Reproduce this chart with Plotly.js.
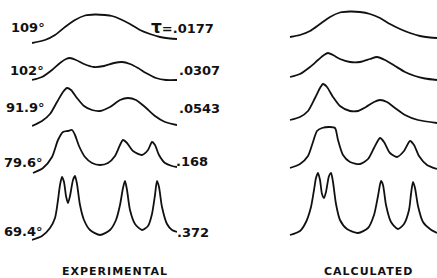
<!DOCTYPE html>
<html>
<head>
<meta charset="utf-8">
<script src="https://cdn.plot.ly/plotly-3.0.1.min.js"></script>
<style>html,body{margin:0;padding:0;background:#fff;}#chart{width:437px;height:278px;}</style>
</head>
<body>
<div id="chart"></div>
<script>
// Temperatures and correlation times
const tempLabels = ["109°", "102°", "91.9°", "79.6°", "69.4°"];
const tauLabels = [".0177", ".0307", ".0543", ".168", ".372"];
const columnTitles = ["EXPERIMENTAL", "CALCULATED"];

// Experimental spectra (frequency, arbitrary units; intensity, arbitrary units)
const expFreq1 = [0,13,23,33,43,53,63,73,80,88,98,108,118,128,138,145];
const expInt1  = [0,3,8,16,23,27.5,28.5,28,27,24,19,13,9,6,4.5,4];
const expFreq2 = [0,10,20,28,34,38,44,52,62,72,82,90,98,106,114,124,134,145];
const expInt2  = [1,4,11,18,22,23,21,17,14,15,18,19,17,13,8,3,1,1];
const expFreq3 = [0,10,18,25,31,35,39,45,52,60,68,78,88,96,104,113,123,133,145];
const expInt3  = [0,5,12,24,34,38,36,28,20,16,15,19,26,28,26,19,10,4,1];
const expFreq4 = [1,11,20,26,31,36,40,43,47,53,60,68,76,83,88,91,95,101,110,116,120,123,127,133,140,145];
const expInt4  = [0,5,16,33,41,42,43,38,27,16,10,8,10,17,28,33,30,22,18,23,31,28,18,10,7,6];
const expFreq5 = [0,10,18,23,26,28,30,32,34,36,38,41,43,45,48,52,58,68,78,84,88,91,93,95,98,103,110,116,120,123,125,127,130,135,140,145];
const expInt5  = [0,4,12,22,40,55,63,58,44,37,44,60,64,56,35,20,10,5,10,20,35,52,59,50,30,16,10,14,26,45,59,53,33,16,10,8];

// Calculated spectra
const calcFreq1 = [2,12,22,32,42,52,62,72,82,92,102,112,122,132,142,149];
const calcInt1  = [2,4,8,15,22,26.5,27.5,27,25,21,15,10,6,3,1.5,1];
const calcFreq2 = [2,12,22,30,36,40,45,52,62,72,82,89,97,107,117,127,137,149];
const calcInt2  = [3,6,13,20,25,27,25,21,18,18,21,23,20,14,8,4,1.5,0];
const calcFreq3 = [2,12,20,27,32,35,39,45,52,62,70,78,86,92,99,107,117,130,149];
const calcInt3  = [3,6,12,25,35,39,36,26,17,12,12,16,21,23,21,15,8,3,0];
const calcFreq4 = [2,12,20,25,29,34,42,47,50,55,62,72,80,86,92,96,102,109,116,122,126,131,139,149];
const calcInt4  = [1,5,13,27,38,41,42,41,29,14,7,5,10,21,31,27,16,12,18,28,24,13,4,0];
const calcFreq5 = [2,12,18,23,26,28,30,32,34,36,38,41,43,45,48,52,59,70,80,86,90,93,95,98,103,110,116,121,123,125,127,130,135,142,149];
const calcInt5  = [1,5,14,29,46,58,63,56,42,38,44,60,63,54,32,16,7,3,8,21,40,55,51,31,14,7,12,26,42,54,48,30,14,7,3];

const expSpectra = [[expFreq1,expInt1],[expFreq2,expInt2],[expFreq3,expInt3],[expFreq4,expInt4],[expFreq5,expInt5]];
const calcSpectra = [[calcFreq1,calcInt1],[calcFreq2,calcInt2],[calcFreq3,calcInt3],[calcFreq4,calcInt4],[calcFreq5,calcInt5]];

// ---- layout (pixel geometry) ----
const W = 437, H = 278;
const leftBase = [43, 81, 126, 173, 240];
const rightBase = [39, 80, 123, 169, 236];
const pad = 3;
const ink = '#111111';
const FONT = 'DejaVu Sans, sans-serif';

const traces = [];
const layout = {
  width: W, height: H,
  margin: {l:0, r:0, t:0, b:0},
  paper_bgcolor: '#fff', plot_bgcolor: 'rgba(0,0,0,0)',
  showlegend: false,
  annotations: []
};

function addPanel(idx, spec, x0, xSpan, base) {
  const n = idx + 1;
  const hgt = Math.min(70, base - 3);
  const xa = 'xaxis' + (n === 1 ? '' : n), ya = 'yaxis' + (n === 1 ? '' : n);
  layout[xa] = {domain: [x0 / W, Math.min(1, (x0 + xSpan) / W)], range: [0, xSpan], visible: false, fixedrange: true};
  layout[ya] = {domain: [1 - (base + pad) / H, 1 - (base - hgt) / H], range: [-pad, hgt], visible: false, fixedrange: true};
  traces.push({
    x: spec[0], y: spec[1], type: 'scatter', mode: 'lines',
    xaxis: 'x' + (n === 1 ? '' : n), yaxis: 'y' + (n === 1 ? '' : n),
    line: {color: ink, width: 1.8, shape: 'spline', smoothing: 0.7},
    hoverinfo: 'skip'
  });
}

for (let i = 0; i < 5; i++) {
  addPanel(i, expSpectra[i], 32, 145, leftBase[i]);
  addPanel(i + 5, calcSpectra[i], 288, 149, rightBase[i]);
}

const tempY = [27, 70, 107, 162, 231];
const tempXr = [47, 46, 47, 45, 45];
const tauX = [149, 177, 177, 174, 175];
const tauY = [27, 70, 108, 161, 232];

function ann(text, px, py, xanchor, size) {
  layout.annotations.push({
    text: text, xref: 'paper', yref: 'paper', x: px / W, y: 1 - py / H,
    xanchor: xanchor, yanchor: 'middle', showarrow: false,
    font: {family: FONT, size: size, color: ink, weight: 'bold'}
  });
}

for (let i = 0; i < 5; i++) {
  ann(tempLabels[i], tempXr[i], tempY[i], 'right', 13);
  const t = i === 0 ? '<span style="font-size:17px">τ</span>=' + tauLabels[i] : tauLabels[i];
  ann(t, tauX[i], tauY[i], 'left', 13);
}
ann('<span style="letter-spacing:1px">' + columnTitles[0] + '</span>', 115, 271, 'center', 11);
ann('<span style="letter-spacing:1px">' + columnTitles[1] + '</span>', 368, 271, 'center', 11);

Plotly.newPlot('chart', traces, layout, {staticPlot: true, displayModeBar: false});
</script>
</body>
</html>
